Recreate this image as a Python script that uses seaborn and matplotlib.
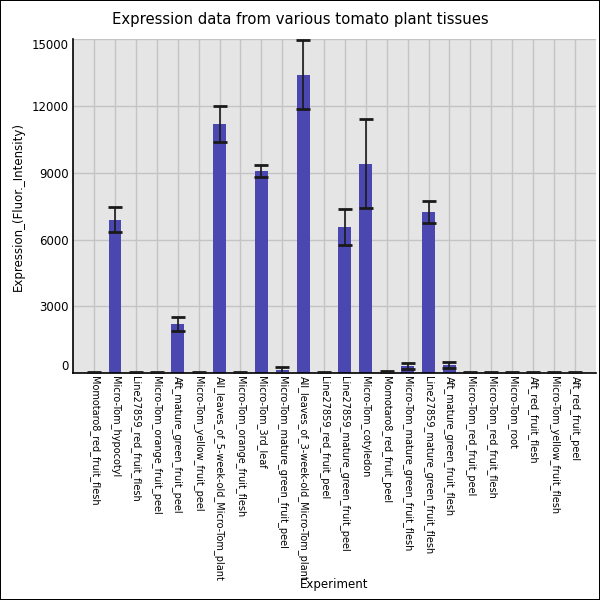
import pandas as pd
import seaborn as sns
from matplotlib import pyplot as plt

experiments = [
    "Momotaro8_red_fruit_flesh", "Micro-Tom_hypocotyl", "Line27859_red_fruit_flesh",
    "Micro-Tom_orange_fruit_peel", "Aft_mature_green_fruit_peel", "Micro-Tom_yellow_fruit_peel",
    "All_leaves_of_5-week-old_Micro-Tom_plant", "Micro-Tom_orange_fruit_flesh", "Micro-Tom_3rd_leaf",
    "Micro-Tom_mature_green_fruit_peel", "All_leaves_of_3-week-old_Micro-Tom_plant",
    "Line27859_red_fruit_peel", "Line27859_mature_green_fruit_peel", "Micro-Tom_cotyledon",
    "Momotaro8_red_fruit_peel", "Micro-Tom_mature_green_fruit_flesh",
    "Line27859_mature_green_fruit_flesh", "Aft_mature_green_fruit_flesh", "Micro-Tom_red_fruit_peel",
    "Micro-Tom_red_fruit_flesh", "Micro-Tom_root", "Aft_red_fruit_flesh",
    "Micro-Tom_yellow_fruit_flesh", "Aft_red_fruit_peel",
]
expression = [10, 6880, 5, 5, 2200, 5, 11180, 5, 9080, 150, 13400, 5, 6560, 9400,
              60, 330, 7240, 380, 5, 5, 10, 5, 15, 5]
error = [45, 560, 45, 45, 320, 45, 800, 45, 260, 150, 1550, 45, 820, 2000,
         50, 150, 490, 140, 45, 45, 45, 45, 50, 45]
yticks = [0, 3000, 6000, 9000, 12000, 15000]

df = pd.DataFrame({"Experiment": experiments, "Expression": expression, "err": error})

sns.set_style("whitegrid")
plt.rcParams['font.family'] = ['DejaVu Sans']
plt.rcParams['text.color'] = 'black'
plt.rcParams['axes.labelcolor'] = 'black'
plt.rcParams['xtick.color'] = 'black'
plt.rcParams['ytick.color'] = 'black'

fig = plt.figure(figsize=(6, 6), dpi=100, linewidth=1.2, edgecolor='black')
ax = fig.add_axes([0.122, 0.378, 0.871, 0.557])
ax.set_facecolor('#e5e5e5')

sns.barplot(df, x="Experiment", y="Expression", color='#4b47b0', saturation=1,
            width=0.62, linewidth=0, ax=ax, zorder=2)
ax.errorbar(x=range(len(df)), y=df["Expression"], yerr=df["err"], fmt='none',
            ecolor='#1a1a1a', elinewidth=1.2, capsize=4.8, capthick=2, zorder=3)

ax.set_xlim(-1, 24)
ax.set_ylim(0, 15000)
ax.set_yticks(yticks)
ax.grid(True, color='#c4c4c4', linewidth=1)
ax.set_axisbelow(True)
for s in ['top', 'right']:
    ax.spines[s].set_visible(False)
for s in ['left', 'bottom']:
    ax.spines[s].set_color('black')
    ax.spines[s].set_linewidth(1.2)
ax.tick_params(axis='both', length=0)
ax.tick_params(axis='y', labelsize=8.5, pad=3)
ax.tick_params(axis='x', labelsize=7, pad=2)
plt.setp(ax.get_xticklabels(), rotation=270, ha='center', va='top')
ylabels = ax.get_yticklabels()
ylabels[0].set_va('bottom')
ylabels[-1].set_va('top')

ax.set_xlabel("Experiment", fontsize=8.5)
ax.set_ylabel("Expression_(Fluor._Intensity)", fontsize=8.5)
ax.xaxis.set_label_coords(0.5, -0.614)
ax.yaxis.set_label_coords(-0.092, 0.5)

fig.suptitle("Expression data from various tomato plant tissues", fontsize=10.7,
             y=0.967, va='center')

fig.savefig("out.png", dpi=100)
